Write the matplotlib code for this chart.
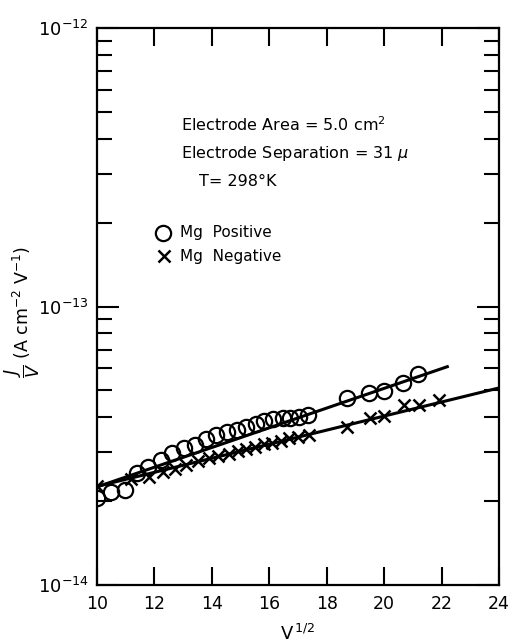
import matplotlib
matplotlib.use("Agg")
import matplotlib.pyplot as plt
from matplotlib.ticker import LogLocator, FixedLocator, NullFormatter

# ---- data ----
pos_v = [10.0, 10.48, 10.98, 11.38, 11.79, 12.23, 12.60, 13.03, 13.41, 13.80,
         14.14, 14.52, 14.87, 15.19, 15.53, 15.82, 16.12, 16.47, 16.72, 17.05,
         17.36, 18.70, 19.48, 20.0, 20.67, 21.19]
pos_j = [2.05e-14, 2.16e-14, 2.19e-14, 2.52e-14, 2.66e-14, 2.81e-14, 2.99e-14, 3.10e-14,
         3.18e-14, 3.34e-14, 3.46e-14, 3.55e-14, 3.60e-14, 3.69e-14, 3.79e-14, 3.88e-14,
         3.94e-14, 3.97e-14, 3.99e-14, 4.02e-14, 4.08e-14, 4.68e-14, 4.88e-14, 4.99e-14,
         5.30e-14, 5.72e-14]

neg_v = [10.0, 11.2, 11.8, 12.3, 12.7, 13.1, 13.5, 13.9, 14.2, 14.6, 14.9, 15.2,
         15.5, 15.8, 16.1, 16.4, 16.7, 17.0, 17.4, 18.7, 19.5, 20.0, 20.7, 21.2, 21.9]
neg_j = [2.26e-14, 2.40e-14, 2.45e-14, 2.54e-14, 2.60e-14, 2.70e-14, 2.79e-14, 2.85e-14,
         2.90e-14, 2.96e-14, 3.02e-14, 3.07e-14, 3.14e-14, 3.20e-14, 3.24e-14, 3.30e-14,
         3.36e-14, 3.40e-14, 3.47e-14, 3.68e-14, 3.97e-14, 4.05e-14, 4.43e-14, 4.43e-14,
         4.61e-14]

fit_pos_v = [10.0, 22.2]
fit_pos_j = [2.25e-14, 6.08e-14]
fit_neg_v = [10.0, 24.0]
fit_neg_j = [2.26e-14, 5.10e-14]

xticks = [10, 12, 14, 16, 18, 20, 22, 24]
yticks = [1e-14, 1e-13, 1e-12]
ytick_labels = [r"$\mathregular{10^{-14}}$", r"$\mathregular{10^{-13}}$", r"$\mathregular{10^{-12}}$"]

plt.rcParams['font.family'] = ['DejaVu Sans']
plt.rcParams['mathtext.fontset'] = 'dejavusans'

fig = plt.figure(figsize=(5.13, 6.43), dpi=100)
ax = fig.add_axes([97/513, 1-585/643, (499-97)/513, (585-28)/643])

ax.set_yscale('log')
ax.set_xlim(10, 24)
ax.set_ylim(1e-14, 1e-12)

ax.plot(fit_pos_v, fit_pos_j, color='black', lw=2.2, zorder=2)
ax.plot(fit_neg_v, fit_neg_j, color='black', lw=2.2, zorder=2)
ax.plot(pos_v, pos_j, linestyle='none', marker='o', ms=11, mfc='none',
        mec='black', mew=1.6, zorder=3)
ax.plot(neg_v, neg_j, linestyle='none', marker='x', ms=9,
        mec='black', mew=1.8, zorder=3)

for s in ax.spines.values():
    s.set_linewidth(1.6)

ax.xaxis.set_major_locator(FixedLocator(xticks))
ax.set_xticklabels([str(t) for t in xticks], fontsize=12.5)
ax.yaxis.set_major_locator(FixedLocator(yticks))
ax.set_yticklabels(ytick_labels, fontsize=13)
ax.yaxis.set_minor_locator(LogLocator(base=10, subs=range(2, 10), numticks=20))
ax.yaxis.set_minor_formatter(NullFormatter())

ax.tick_params(axis='both', which='major', direction='in', length=13, width=1.5,
               top=True, right=True, pad=7)
ax.tick_params(axis='y', which='major', length=16, pad=6)
ax.tick_params(axis='y', which='minor', direction='in', length=11, width=1.5,
               right=True)
ax.tick_params(axis='x', which='minor', bottom=False, top=False)

# annotations (axes-fraction coords from pixel positions)
def fx(px):
    return (px - 97) / (499 - 97)

def fy(py):
    return (585 - py) / (585 - 28)

ax.set_xlabel(r"V$^{\,1/2}$", fontsize=13, labelpad=8)
ax.set_ylabel(r"$\dfrac{J}{V}$ (A cm$^{-2}$ V$^{-1}$)", fontsize=12.5)
ax.yaxis.set_label_coords(fx(42), fy(312))

ax.text(fx(181), fy(125), "Electrode Area = 5.0 cm$^{2}$", transform=ax.transAxes,
        fontsize=11.5, va='center', ha='left')
ax.text(fx(181), fy(153), r"Electrode Separation = 31 $\mu$", transform=ax.transAxes,
        fontsize=11.5, va='center', ha='left')
ax.text(fx(199), fy(181), "T= 298°K", transform=ax.transAxes,
        fontsize=11.5, va='center', ha='left')

ax.plot([fx(163)], [fy(233)], transform=ax.transAxes, marker='o', ms=11,
        mfc='none', mec='black', mew=1.6, linestyle='none', clip_on=False)
ax.text(fx(180), fy(233), "Mg  Positive", transform=ax.transAxes,
        fontsize=11, va='center', ha='left')
ax.plot([fx(164)], [fy(256)], transform=ax.transAxes, marker='x', ms=9,
        mec='black', mew=1.8, linestyle='none', clip_on=False)
ax.text(fx(180), fy(256), "Mg  Negative", transform=ax.transAxes,
        fontsize=11, va='center', ha='left')

fig.savefig("out.png", dpi=100)
